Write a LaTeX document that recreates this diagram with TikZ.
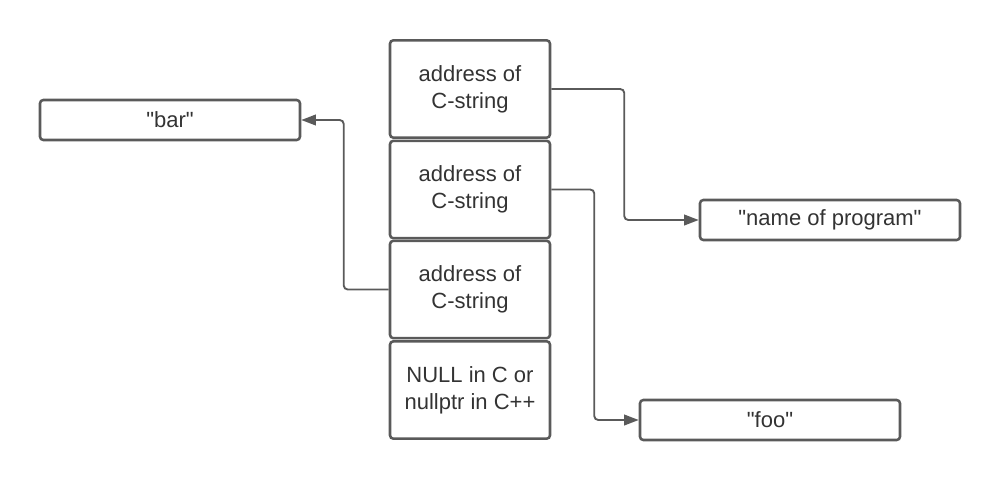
\documentclass[tikz,border=0pt]{standalone}
\usepackage{fontspec}
\setmainfont{Liberation Sans}[Ligatures=TeXOff]
\usetikzlibrary{arrows.meta}
\definecolor{linegray}{RGB}{90,90,90}
\definecolor{textgray}{RGB}{51,51,51}
\begin{document}
\begin{tikzpicture}[x=0.75pt,y=-0.75pt,
    cell/.style={draw=linegray,line width=1.9pt,rounded corners=2.5pt,
      minimum width=120pt,minimum height=73pt,align=center,
      text=textgray,font=\fontsize{16.5}{20}\selectfont},
    strbox/.style={cell,minimum width=195pt,minimum height=30pt},
    link/.style={draw=linegray,line width=1.4pt,rounded corners=3pt,
      -{Triangle[length=11pt,width=8pt]}}]
    \useasboundingbox (0,0) rectangle (1000,480);
    % the argv array
    \node[cell] (s1) at (470,89) {address of\\C-string};
    \node[cell] (s2) at (470,189.5) {address of\\C-string};
    \node[cell] (s3) at (470,289.5) {address of\\C-string};
    \node[cell] (s4) at (470,390) {NULL in C or\\nullptr in C++};
    % the strings
    \node[strbox] (bar) at (170,120) {"bar"};
    \node[strbox] (prog) at (830,220) {"name of program"};
    \node[strbox] (foo) at (770,420) {"foo"};

    \draw[link] (s1.east) -- ++(73,0) |- (prog.west);
    \draw[link] (s2.east) -- ++(43,0) |- (foo.west);
    \draw[link] (s3.west) -- ++(-45,0) |- (bar.east);
\end{tikzpicture}
\end{document}
